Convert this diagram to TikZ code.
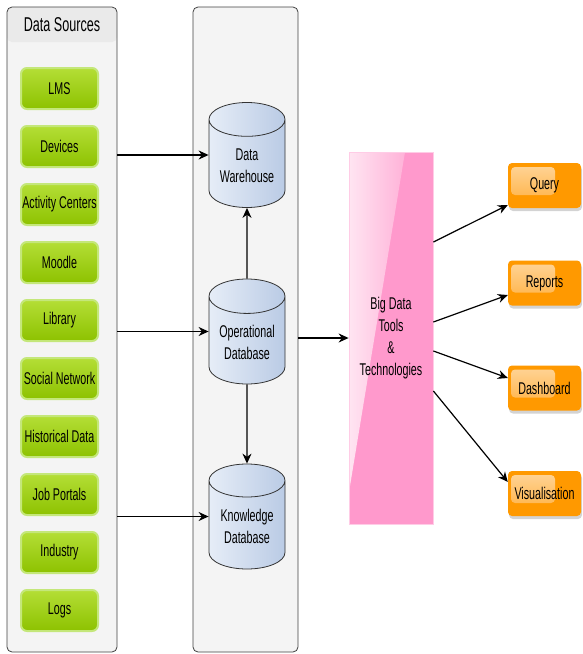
\documentclass[tikz,border=0pt]{standalone}
\usepackage{fontspec}
\setmainfont[FakeStretch=0.63]{Liberation Sans}
\usetikzlibrary{positioning, shapes.geometric, arrows.meta, calc, shadows}

\definecolor{panelgray}{HTML}{F4F4F4}
\definecolor{headgray}{HTML}{EAEAEA}
\definecolor{greentop}{HTML}{B4DE36}
\definecolor{greenbot}{HTML}{8DC200}
\definecolor{greenrim}{HTML}{C4E77A}
\definecolor{dbleft}{HTML}{E6EDF7}
\definecolor{dbright}{HTML}{BACBE5}
\definecolor{bigpink}{HTML}{FF99CC}
\definecolor{outorange}{HTML}{FF9900}
\definecolor{glosstop}{HTML}{FFD59A}
\definecolor{glossbot}{HTML}{FFAE3A}

\begin{document}
\begin{tikzpicture}[
    x=1pt, y=1pt,
    font=\fontsize{17}{22}\selectfont,
    node distance=15pt,
    panel/.style={rectangle, draw=black!75, fill=panelgray, rounded corners=5pt, line width=0.8pt, minimum height=645pt},
    source/.style={rectangle, rounded corners=6pt, draw=greenrim, line width=2pt, top color=greentop, bottom color=greenbot, minimum width=77pt, minimum height=41pt, inner sep=0pt},
    db/.style={cylinder, shape border rotate=90, aspect=0.6, draw=black!80, line width=0.8pt, left color=dbleft, right color=dbright, minimum width=76pt, minimum height=105pt, align=center, inner sep=1pt, anchor=shape center},
    tools/.style={rectangle, draw=bigpink!50!white, line width=0.8pt, fill=bigpink, minimum width=84pt, minimum height=372pt, align=center,
        path picture={\shade[left color=white, right color=bigpink, fill opacity=0.75] (path picture bounding box.north west) -- ++(56pt,0) -- ++(-56pt,-340pt) -- cycle;}},
    output/.style={rectangle, rounded corners=4pt, fill=outorange, minimum width=73pt, minimum height=45pt, inner sep=0pt,
        drop shadow={shadow xshift=1pt, shadow yshift=-3pt, opacity=0.35},
        path picture={\shade[top color=glosstop, bottom color=glossbot, rounded corners=4pt] ([shift={(3pt,-4pt)}]path picture bounding box.north west) rectangle ++(44pt,-28pt);}},
    arr/.style={-{Stealth[length=10pt, width=9pt]}, line width=1.2pt}
]
    \useasboundingbox (0,0) rectangle (582,-654);

    % Data Sources
    \node[panel, minimum width=110pt, path picture={\fill[headgray] (path picture bounding box.north west) rectangle ([yshift=-35pt]path picture bounding box.north east);}] (srcpanel) at (62,-329.5) {};
    \node[font=\fontsize{20}{24}\selectfont] (srctitle) at (62,-25) {Data Sources};
    \node[source] (lms) at (59.5,-88.5) {LMS};
    \node[source, below=of lms] (devices) {Devices};
    \node[source, below=of devices] (activity) {Activity Centers};
    \node[source, below=of activity] (moodle) {Moodle};
    \node[source, below=of moodle] (library) {Library};
    \node[source, below=of library] (social) {Social Network};
    \node[source, below=of social] (historical) {Historical Data};
    \node[source, below=of historical] (jobs) {Job Portals};
    \node[source, below=of jobs] (industry) {Industry};
    \node[source, below=of industry] (logs) {Logs};

    % Databases
    \node[panel, minimum width=105pt] (dbpanel) at (245.5,-329.5) {};
    \node[db] (warehouse) at (247,-155) {Data\\Warehouse};
    \node[db] (operational) at (247,-331.5) {Operational\\Database};
    \node[db] (knowledge) at (247,-516.5) {Knowledge\\Database};
    \draw[arr] (srcpanel.east |- warehouse.shape center) -- (warehouse.shape center -| warehouse.west);
    \draw[arr] (srcpanel.east |- operational.shape center) -- (operational.shape center -| operational.west);
    \draw[arr] (srcpanel.east |- knowledge.shape center) -- (knowledge.shape center -| knowledge.west);
    \draw[arr] (operational) -- (warehouse);
    \draw[arr] (operational) -- (knowledge);

    % Big Data
    \node[tools] (bigdata) at (391,-338) {Big Data\\Tools\\\&\\Technologies};
    \draw[arr] (dbpanel.east |- bigdata) -- (bigdata);

    % Outputs
    \node[output] (query) at (544.5,-185.5) {Query};
    \node[output] (reports) at (544.5,-283) {Reports};
    \node[output] (dashboard) at (544.5,-388) {Dashboard};
    \node[output] (visual) at (544.5,-493.5) {Visualisation};
    \draw[arr] ([yshift=96pt]bigdata.east) -- ([yshift=-19.5pt]query.west);
    \draw[arr] ([yshift=16pt]bigdata.east) -- ([yshift=-12pt]reports.west);
    \draw[arr] ([yshift=-13pt]bigdata.east) -- ([yshift=10pt]dashboard.west);
    \draw[arr] ([yshift=-53pt]bigdata.east) -- ([yshift=11.5pt]visual.west);

\end{tikzpicture}
\end{document}
